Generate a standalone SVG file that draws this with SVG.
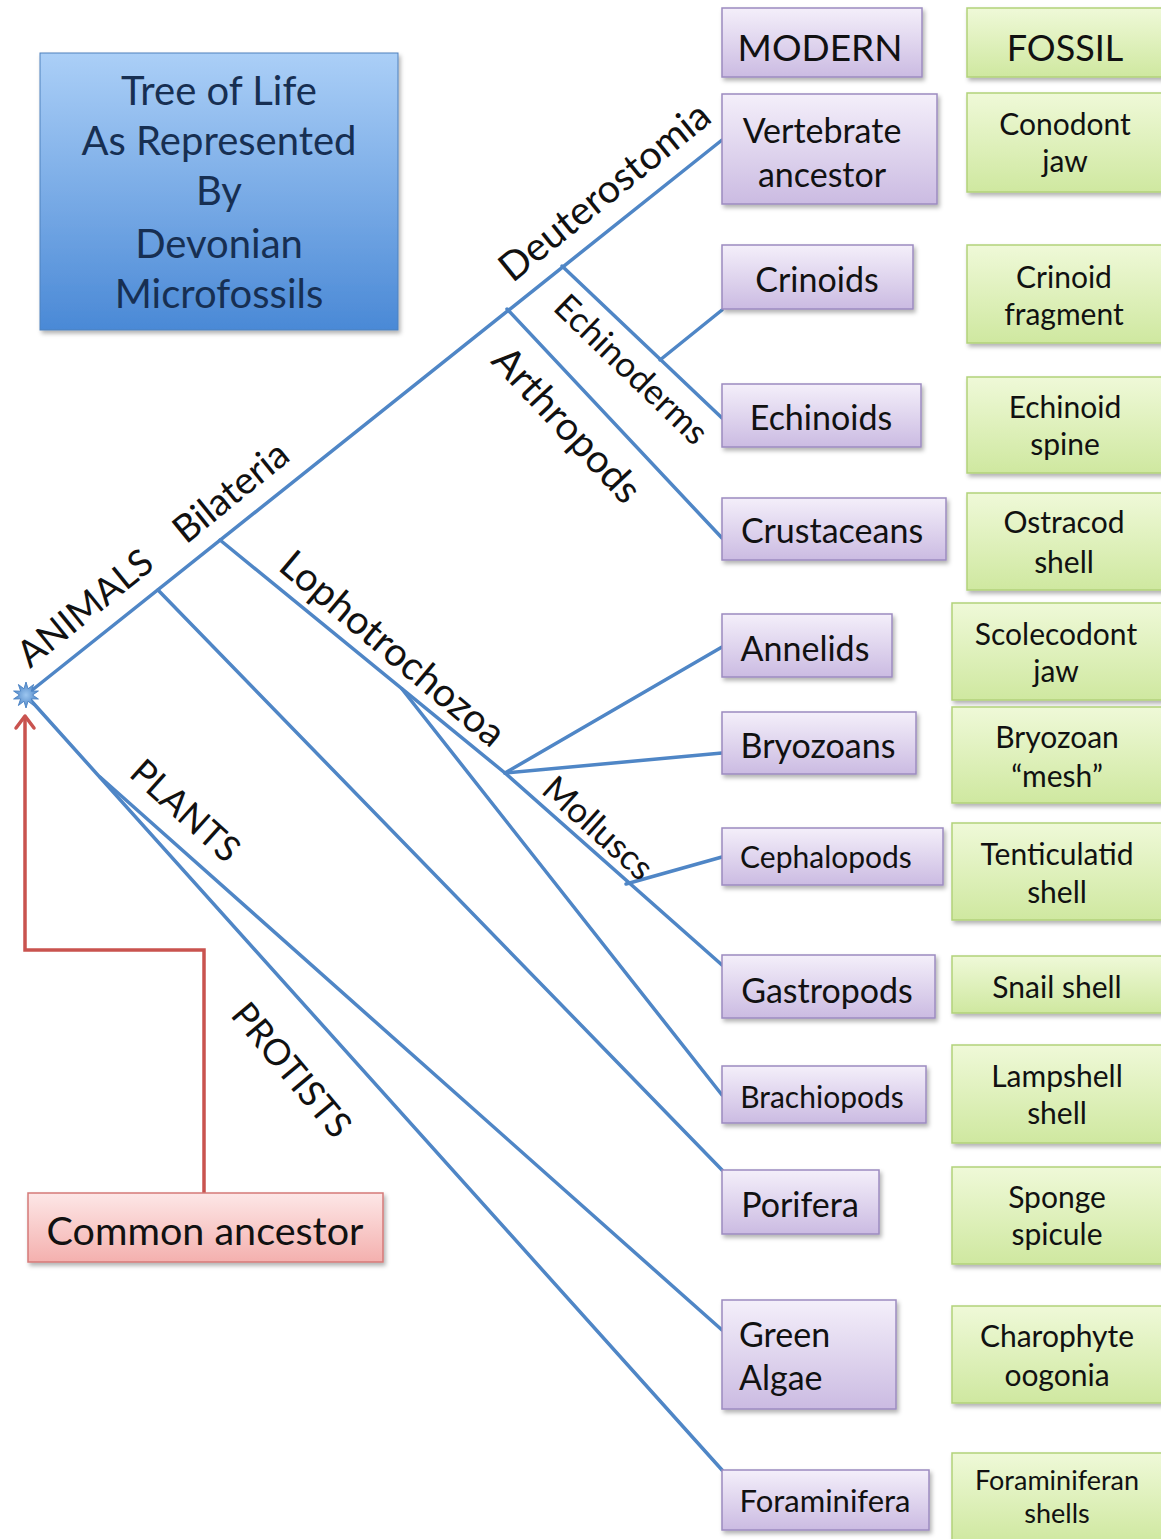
<svg xmlns="http://www.w3.org/2000/svg" width="1161" height="1539" viewBox="0 0 1161 1539">
<defs>
  <linearGradient id="gPurple" x1="0" y1="0" x2="0" y2="1">
    <stop offset="0" stop-color="#f4effa"/><stop offset="1" stop-color="#cbbbe2"/>
  </linearGradient>
  <linearGradient id="gGreen" x1="0" y1="0" x2="0" y2="1">
    <stop offset="0" stop-color="#eff9d8"/><stop offset="1" stop-color="#cfe8a0"/>
  </linearGradient>
  <linearGradient id="gBlue" x1="0" y1="0" x2="0" y2="1">
    <stop offset="0" stop-color="#abcff7"/><stop offset="1" stop-color="#4a89d6"/>
  </linearGradient>
  <linearGradient id="gPink" x1="0" y1="0" x2="0" y2="1">
    <stop offset="0" stop-color="#fde7e7"/><stop offset="1" stop-color="#f4b0ae"/>
  </linearGradient>
  <radialGradient id="gStar" cx="0.5" cy="0.5" r="0.5">
    <stop offset="0" stop-color="#9cc6f0"/><stop offset="1" stop-color="#4f86c6"/>
  </radialGradient>
  <filter id="sh" x="-10%" y="-10%" width="130%" height="150%">
    <feDropShadow dx="2" dy="3" stdDeviation="2" flood-color="#000" flood-opacity="0.3"/>
  </filter>
  <marker id="redArrow" markerUnits="userSpaceOnUse" markerWidth="24" markerHeight="24" viewBox="0 0 24 24" refX="20" refY="12" orient="auto">
    <path d="M8,3 L20,12 L8,21" fill="none" stroke="#c9534f" stroke-width="3.5" stroke-linecap="round" stroke-linejoin="round"/>
  </marker>
</defs>
<style>
  text { font-family: Lato, "Open Sans", "Liberation Sans", sans-serif; fill: #111; }
  .mod rect { fill: url(#gPurple); stroke: #9c8bc0; stroke-width: 1.5; filter: url(#sh); }
  .fos rect { fill: url(#gGreen); stroke: #b2d27a; stroke-width: 1.5; filter: url(#sh); }
  .mod text { font-size: 34px; text-anchor: middle; }
  .fos text { font-size: 30px; text-anchor: middle; }
  .branch { fill: none; stroke: #4f86c6; stroke-width: 3.5; stroke-linecap: round; }
  .lbl { font-size: 38px; text-anchor: middle; }
</style>

<g id="connectors">
  <path class="branch" d="M26,695 L722,140"/>
  <path class="branch" d="M562,266 L722,418"/>
  <path class="branch" d="M660,360 L722,310"/>
  <path class="branch" d="M507,309 L722,538"/>
  <path class="branch" d="M220,540 L505,773 L722,965"/>
  <path class="branch" d="M505,773 L722,647"/>
  <path class="branch" d="M505,773 L722,753"/>
  <path class="branch" d="M626,884 L722,857"/>
  <path class="branch" d="M402,689 L722,1095"/>
  <path class="branch" d="M158,590 L722,1170"/>
  <path class="branch" d="M26,695 L722,1470"/>
  <path class="branch" d="M100,777 L722,1330"/>
  <path d="M204,1193 V950 H25 V716" fill="none" stroke="#c9534f" stroke-width="3.5" marker-end="url(#redArrow)"/>
</g>

<g id="branch-labels">
  <text class="lbl" transform="translate(93,618) rotate(-39)" style="font-size:37px">ANIMALS</text>
  <text class="lbl" transform="translate(239,502) rotate(-39)">Bilateria</text>
  <text class="lbl" transform="translate(613,202) rotate(-39)" style="font-size:39.5px">Deuterostomia</text>
  <text class="lbl" transform="translate(623,378) rotate(44)" style="font-size:35px">Echinoderms</text>
  <text class="lbl" transform="translate(557,434) rotate(47)" style="font-size:39.5px">Arthropods</text>
  <text class="lbl" transform="translate(384,659) rotate(40)" style="font-size:39.5px">Lophotrochozoa</text>
  <text class="lbl" transform="translate(590,837) rotate(42)" style="font-size:35px">Molluscs</text>
  <text class="lbl" transform="translate(177,820) rotate(42)" style="font-size:36px">PLANTS</text>
  <text class="lbl" transform="translate(282,1078) rotate(50)" style="font-size:36px">PROTISTS</text>
</g>

<g id="origin">
  <polygon points="26,682 28,688.8 33.6,684.5 31.3,691.2 38.4,691 32.5,695 38.4,699 31.3,698.8 33.6,705.5 28,701.2 26,708 24,701.2 18.4,705.5 20.7,698.8 13.6,699 19.5,695 13.6,691 20.7,691.2 18.4,684.5 24,688.8" fill="url(#gStar)" stroke="#4f86c6" stroke-width="1"/>
</g>

<g id="title">
  <rect x="40" y="53" width="358" height="277" fill="url(#gBlue)" stroke="#4f81bd" stroke-width="1" filter="url(#sh)"/>
  <g style="font-size:40px; text-anchor:middle">
    <text x="219" y="105" style="fill:#172f52">Tree of Life</text>
    <text x="219" y="155" style="fill:#172f52">As Represented</text>
    <text x="219" y="205" style="fill:#172f52">By</text>
    <text x="219" y="258" style="fill:#172f52">Devonian</text>
    <text x="219" y="308" style="fill:#172f52">Microfossils</text>
  </g>
</g>

<g id="common-ancestor">
  <rect x="28" y="1193" width="355" height="69" fill="url(#gPink)" stroke="#d57a78" stroke-width="1.5" filter="url(#sh)"/>
  <text x="205" y="1245" style="font-size:39.5px; text-anchor:middle">Common ancestor</text>
</g>

<g id="modern-header" class="mod"><rect x="722" y="8" width="200" height="69"/><text x="820" y="61" style="font-size:37px">MODERN</text></g>
<g id="fossil-header" class="fos"><rect x="967" y="8" width="198" height="69"/><text x="1065" y="61" style="font-size:36px">FOSSIL</text></g>

<g id="vertebrate" class="mod"><rect x="722" y="94" width="215" height="110"/><text x="822" y="143" style="font-size:34px">Vertebrate</text><text x="822" y="187" style="font-size:34px">ancestor</text></g>
<g id="crinoids" class="mod"><rect x="722" y="245" width="191" height="64"/><text x="817" y="292">Crinoids</text></g>
<g id="echinoids" class="mod"><rect x="722" y="384" width="199" height="63"/><text x="821" y="430">Echinoids</text></g>
<g id="crustaceans" class="mod"><rect x="722" y="498" width="224" height="62"/><text x="832" y="543">Crustaceans</text></g>
<g id="annelids" class="mod"><rect x="722" y="614" width="170" height="63"/><text x="805" y="661">Annelids</text></g>
<g id="bryozoans" class="mod"><rect x="722" y="712" width="194" height="62"/><text x="818" y="758">Bryozoans</text></g>
<g id="cephalopods" class="mod"><rect x="722" y="828" width="221" height="57"/><text x="826" y="868" style="font-size:30px">Cephalopods</text></g>
<g id="gastropods" class="mod"><rect x="722" y="955" width="213" height="63"/><text x="827" y="1003">Gastropods</text></g>
<g id="brachiopods" class="mod"><rect x="722" y="1066" width="204" height="57"/><text x="822" y="1108" style="font-size:30px">Brachiopods</text></g>
<g id="porifera" class="mod"><rect x="722" y="1170" width="157" height="64"/><text x="800" y="1217">Porifera</text></g>
<g id="green-algae" class="mod"><rect x="722" y="1300" width="174" height="109"/><text x="739" y="1347" style="text-anchor:start">Green</text><text x="739" y="1390" style="text-anchor:start">Algae</text></g>
<g id="foraminifera" class="mod"><rect x="722" y="1470" width="207" height="60"/><text x="825" y="1512" style="font-size:31px">Foraminifera</text></g>

<g id="conodont" class="fos"><rect x="967" y="93" width="198" height="99"/><text x="1065" y="135">Conodont</text><text x="1065" y="172">jaw</text></g>
<g id="crinoid-fragment" class="fos"><rect x="967" y="245" width="198" height="98"/><text x="1064" y="288">Crinoid</text><text x="1064" y="325">fragment</text></g>
<g id="echinoid-spine" class="fos"><rect x="967" y="377" width="198" height="96"/><text x="1065" y="418">Echinoid</text><text x="1065" y="455">spine</text></g>
<g id="ostracod-shell" class="fos"><rect x="967" y="493" width="198" height="97"/><text x="1064" y="533">Ostracod</text><text x="1064" y="573">shell</text></g>
<g id="scolecodont-jaw" class="fos"><rect x="952" y="603" width="213" height="97"/><text x="1056" y="645">Scolecodont</text><text x="1056" y="682">jaw</text></g>
<g id="bryozoan-mesh" class="fos"><rect x="952" y="707" width="213" height="96"/><text x="1057" y="748">Bryozoan</text><text x="1057" y="787">“mesh”</text></g>
<g id="tenticulatid-shell" class="fos"><rect x="952" y="823" width="213" height="97"/><text x="1057" y="865">Tenticulatid</text><text x="1057" y="903">shell</text></g>
<g id="snail-shell" class="fos"><rect x="952" y="956" width="213" height="57"/><text x="1057" y="998">Snail shell</text></g>
<g id="lampshell-shell" class="fos"><rect x="952" y="1045" width="213" height="98"/><text x="1057" y="1087">Lampshell</text><text x="1057" y="1124">shell</text></g>
<g id="sponge-spicule" class="fos"><rect x="952" y="1167" width="213" height="97"/><text x="1057" y="1208">Sponge</text><text x="1057" y="1245">spicule</text></g>
<g id="charophyte-oogonia" class="fos"><rect x="952" y="1306" width="213" height="97"/><text x="1057" y="1347">Charophyte</text><text x="1057" y="1386">oogonia</text></g>
<g id="foraminiferan-shells" class="fos"><rect x="952" y="1453" width="213" height="90"/><text x="1057" y="1490" style="font-size:27px">Foraminiferan</text><text x="1057" y="1523" style="font-size:27px">shells</text></g>
</svg>
